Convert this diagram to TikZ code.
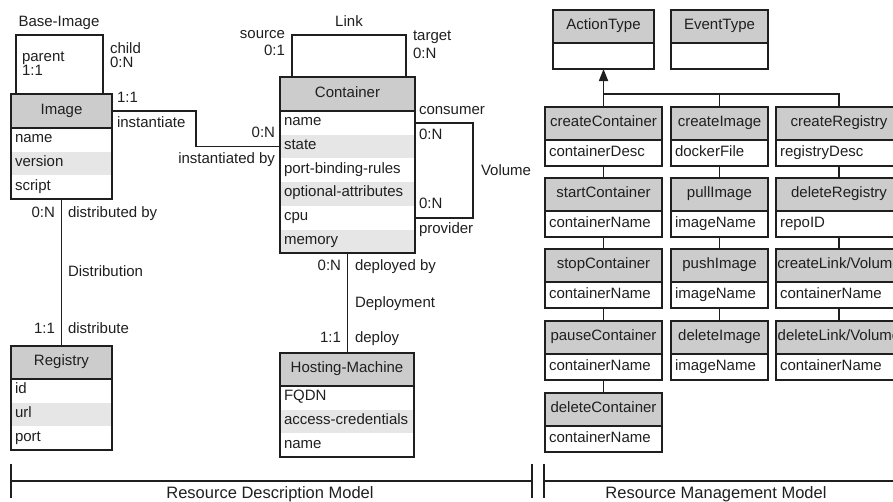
\documentclass[tikz,border=0pt]{standalone}
\usepackage{fontspec}
\setmainfont{Liberation Sans}
\usetikzlibrary{positioning,arrows.meta}
\definecolor{hdrgray}{HTML}{CCCCCC}
\definecolor{rowgray}{HTML}{E6E6E6}
\definecolor{ink}{HTML}{1F1F1F}

\begin{document}
\begin{tikzpicture}[x=1pt,y=-1pt,
  every node/.style={font=\fontsize{15}{17}\selectfont, text=ink, outer sep=0pt},
  line/.style={line width=1.7pt, draw=ink},
  hdr/.style={fill=hdrgray, inner sep=0pt, text height=10pt, text depth=3.5pt},
  attr/.style={inner xsep=4pt, inner ysep=0pt, text width=#1, align=left,
    minimum height=23.7pt, text height=10pt, text depth=4pt},
  alt/.style={fill=rowgray},
  op/.style={hdr, minimum height=33pt, minimum width=#1},
  arg/.style={attr=#1, minimum height=26pt},
  lbl/.style={inner sep=0pt},
  pair/.style={lbl, align=#1, font=\fontsize{15}{13}\selectfont},
  big/.style={lbl, font=\fontsize{16.5}{18}\selectfont},
]
\useasboundingbox (0,0) rectangle (893,501);

% resource description model
\node[hdr, minimum width=101pt, minimum height=34pt] (img) at (61.5,111) {Image};
\node[attr=93pt, below=0pt of img] (img1) {name};
\node[attr=93pt, alt, below=0pt of img1] (img2) {version};
\node[attr=93pt, below=0pt of img2] (img3) {script};
\draw[line] (img.north west) rectangle (img3.south east) (img.south west) -- (img.south east);

\node[hdr, minimum width=135pt, minimum height=34pt] (cont) at (347.5,94) {Container};
\node[attr=127pt, below=0pt of cont] (cont1) {name};
\node[attr=127pt, alt, below=0pt of cont1] (cont2) {state};
\node[attr=127pt, below=0pt of cont2] (cont3) {port-binding-rules};
\node[attr=127pt, alt, below=0pt of cont3] (cont4) {optional-attributes};
\node[attr=127pt, below=0pt of cont4] (cont5) {cpu};
\node[attr=127pt, alt, below=0pt of cont5] (cont6) {memory};
\draw[line] (cont.north west) rectangle (cont6.south east) (cont.south west) -- (cont.south east);

\node[hdr, minimum width=101pt, minimum height=33pt] (reg) at (61.5,362.5) {Registry};
\node[attr=93pt, below=0pt of reg] (reg1) {id};
\node[attr=93pt, alt, below=0pt of reg1] (reg2) {url};
\node[attr=93pt, below=0pt of reg2] (reg3) {port};
\draw[line] (reg.north west) rectangle (reg3.south east) (reg.south west) -- (reg.south east);

\node[hdr, minimum width=134pt, minimum height=33pt] (host) at (347,369.5) {Hosting-Machine};
\node[attr=126pt, below=0pt of host] (host1) {FQDN};
\node[attr=126pt, alt, below=0pt of host1] (host2) {access-credentials};
\node[attr=126pt, below=0pt of host2] (host3) {name};
\draw[line] (host.north west) rectangle (host3.south east) (host.south west) -- (host.south east);

% relationships
\draw[line] ([xshift=5pt]img.north west) -- ++(0,-59) -| ([xshift=-9pt]img.north east);
\node[lbl, anchor=base] (tbase) at (59,26) {Base-Image};
\node[pair=left, anchor=north west] (tpar) at (22,51.5) {parent\\1:1};
\node[pair=left, anchor=north west] (tchild) at (110,43) {child\\[0.6pt]0:N};

\draw[line] (img.east) -- ++(84,0) |- (cont2.west);
\node[lbl, anchor=base west] (tinst1) at (117,102) {1:1};
\node[lbl, anchor=base west] (tinst) at (117,127) {instantiate};
\node[lbl, anchor=base east] (tinstd1) at (275,137.5) {0:N};
\node[lbl, anchor=base east] (tinstd) at (275,163) {instantiated by};

\draw[line] ([xshift=12pt]cont.north west) -- ++(0,-42) -| ([xshift=-9pt]cont.north east);
\node[lbl, anchor=base] (tlink) at (349,26) {Link};
\node[pair=right, anchor=north east] (tsrc) at (285,30.5) {source\\[4pt]0:1};
\node[pair=left, anchor=north west] (ttgt) at (413,30.5) {target\\[4pt]0:N};

\draw[line] (cont1.east) -- ++(58,0) |- (cont5.east);
\node[lbl, anchor=base west] (tcons) at (419,114.3) {consumer};
\node[lbl, anchor=base west] (tcons1) at (419,139.3) {0:N};
\node[lbl, anchor=base west] (tprov1) at (419,208.3) {0:N};
\node[lbl, anchor=base west] (tprov) at (419,233) {provider};
\node[lbl, anchor=base west] (tvol) at (481,175) {Volume};

\draw[line] (cont6.south) -- (cont6.south |- host.north);
\node[lbl, anchor=base east] (tdepd1) at (341,270) {0:N};
\node[lbl, anchor=base west] (tdepd) at (355,270) {deployed by};
\node[lbl, anchor=base west] (tdep) at (355,307) {Deployment};
\node[lbl, anchor=base east] (tdepl1) at (341,342) {1:1};
\node[lbl, anchor=base west] (tdepl) at (355,342) {deploy};

\draw[line] (img3) -- (reg);
\node[lbl, anchor=base east] (tdistd1) at (55,217) {0:N};
\node[lbl, anchor=base west] (tdistd) at (68,217) {distributed by};
\node[lbl, anchor=base west] (tdist) at (68,276) {Distribution};
\node[lbl, anchor=base east] (tdistr1) at (55,333) {1:1};
\node[lbl, anchor=base west] (tdistr) at (68,333) {distribute};

% resource management model
\node[op=101pt] (act) at (603.5,26.5) {ActionType};
\node[arg=93pt, below=0pt of act] (act1) {};
\draw[line] (act.north west) rectangle (act1.south east) (act.south west) -- (act.south east);
\node[op=97pt] (evt) at (719.5,26.5) {EventType};
\node[arg=89pt, below=0pt of evt] (evt1) {};
\draw[line] (evt.north west) rectangle (evt1.south east) (evt.south west) -- (evt.south east);

\node[op=117pt] (cc) at (603.5,123.5) {createContainer};
\node[arg=109pt, below=0pt of cc] (cc1) {containerDesc};
\node[op=117pt] (sc) at (603.5,194.5) {startContainer};
\node[arg=109pt, below=0pt of sc] (sc1) {containerName};
\node[op=117pt] (tc) at (603.5,265.5) {stopContainer};
\node[arg=109pt, below=0pt of tc] (tc1) {containerName};
\node[op=117pt] (pc) at (603.5,337.5) {pauseContainer};
\node[arg=109pt, below=0pt of pc] (pc1) {containerName};
\node[op=117pt] (dc) at (603.5,409.5) {deleteContainer};
\node[arg=109pt, below=0pt of dc] (dc1) {containerName};

\node[op=97pt] (ci) at (719.5,123.5) {createImage};
\node[arg=89pt, below=0pt of ci] (ci1) {dockerFile};
\node[op=97pt] (pi) at (719.5,194.5) {pullImage};
\node[arg=89pt, below=0pt of pi] (pi1) {imageName};
\node[op=97pt] (hi) at (719.5,265.5) {pushImage};
\node[arg=89pt, below=0pt of hi] (hi1) {imageName};
\node[op=97pt] (di) at (719.5,337.5) {deleteImage};
\node[arg=89pt, below=0pt of di] (di1) {imageName};

\node[op=126pt] (cr) at (839,123.5) {createRegistry};
\node[arg=118pt, below=0pt of cr] (cr1) {registryDesc};
\node[op=126pt] (dr) at (839,194.5) {deleteRegistry};
\node[arg=118pt, below=0pt of dr] (dr1) {repoID};
\node[op=126pt] (cl) at (839,265.5) {createLink/Volume};
\node[arg=118pt, below=0pt of cl] (cl1) {containerName};
\node[op=126pt] (dl) at (839,337.5) {deleteLink/Volume};
\node[arg=118pt, below=0pt of dl] (dl1) {containerName};

\draw[line] (cc.north west) rectangle (cc1.south east) (cc.south west) -- (cc.south east);
\draw[line] (sc.north west) rectangle (sc1.south east) (sc.south west) -- (sc.south east);
\draw[line] (tc.north west) rectangle (tc1.south east) (tc.south west) -- (tc.south east);
\draw[line] (pc.north west) rectangle (pc1.south east) (pc.south west) -- (pc.south east);
\draw[line] (dc.north west) rectangle (dc1.south east) (dc.south west) -- (dc.south east);
\draw[line] (ci.north west) rectangle (ci1.south east) (ci.south west) -- (ci.south east);
\draw[line] (pi.north west) rectangle (pi1.south east) (pi.south west) -- (pi.south east);
\draw[line] (hi.north west) rectangle (hi1.south east) (hi.south west) -- (hi.south east);
\draw[line] (di.north west) rectangle (di1.south east) (di.south west) -- (di.south east);
\draw[line] (cr.north west) rectangle (cr1.south east) (cr.south west) -- (cr.south east);
\draw[line] (dr.north west) rectangle (dr1.south east) (dr.south west) -- (dr.south east);
\draw[line] (cl.north west) rectangle (cl1.south east) (cl.south west) -- (cl.south east);
\draw[line] (dl.north west) rectangle (dl1.south east) (dl.south west) -- (dl.south east);

\draw[line] (cc1) -- (sc) (sc1) -- (tc) (tc1) -- (pc) (pc1) -- (dc);
\draw[line] (ci1) -- (pi) (pi1) -- (hi) (hi1) -- (di);
\draw[line] (cr1) -- (dr) (dr1) -- (cl) (cl1) -- (dl);

\coordinate (fork) at (act.south |- 0,94);
\draw[line, -{Triangle[length=12pt,width=9pt]}] (cc.north) -- (act1.south);
\draw[line] (ci.north) |- (fork);
\draw[line] (cr.north) |- (fork);

% model brackets
\draw[line] (11,464) -- (11,498) (11,481) -- (532,481) (532,464) -- (532,498);
\node[big, anchor=base] (tdesc) at (270,498) {Resource Description Model};
\draw[line] (544,464) -- (544,498) (544,481) -- (900,481);
\node[big, anchor=base] (tmgmt) at (716,498) {Resource Management Model};
\end{tikzpicture}
\end{document}
